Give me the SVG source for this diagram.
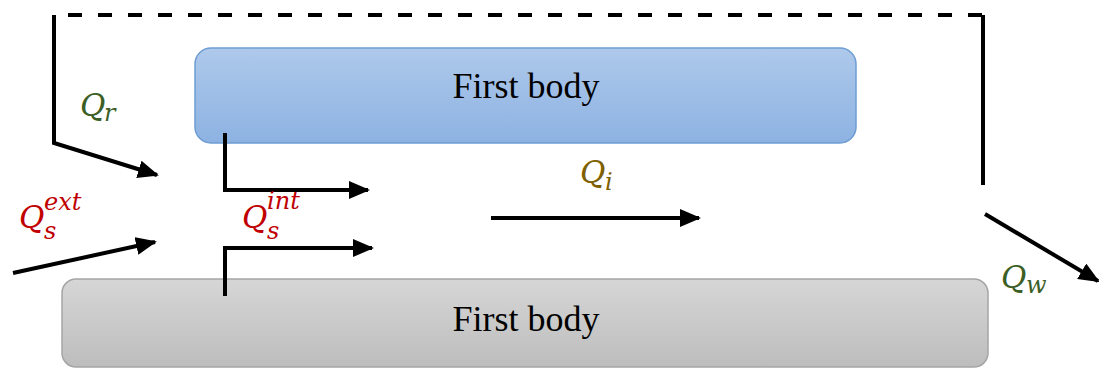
<svg xmlns="http://www.w3.org/2000/svg" width="1099" height="369" viewBox="0 0 1099 369">
<style>
.ln{fill:none;stroke:#000;stroke-width:4}
.lbl{font-family:"DejaVu Serif","Liberation Serif",serif;font-style:italic;font-size:31px}
.sub{font-size:24px}
.body{font-family:"Liberation Serif","Times New Roman",serif;font-size:36px;fill:#000}
.g{fill:#3d5f26}
.r{fill:#c00000}
.o{fill:#7f6000}
</style>
<defs>
<linearGradient id="blue" x1="0" y1="0" x2="0" y2="1">
<stop offset="0" stop-color="#aec9eb"/>
<stop offset="1" stop-color="#8db2e2"/>
</linearGradient>
<linearGradient id="gray" x1="0" y1="0" x2="0" y2="1">
<stop offset="0" stop-color="#d6d6d6"/>
<stop offset="1" stop-color="#bdbdbd"/>
</linearGradient>
<marker id="ah" markerUnits="userSpaceOnUse" markerWidth="21" markerHeight="18" refX="19" refY="9" orient="auto">
<path d="M0,0 L21,9 L0,18 Z" fill="#000"/>
</marker>
</defs>
<g id="top-body">
<rect x="195" y="48" width="661" height="95" rx="16" fill="url(#blue)" stroke="#6d9dd2" stroke-width="1.5"/>
<text class="body" x="526" y="98" text-anchor="middle">First body</text>
</g>
<g id="bottom-body">
<rect x="62" y="279" width="926" height="88" rx="14" fill="url(#gray)" stroke="#a5a5a5" stroke-width="1.5"/>
<text class="body" x="526" y="331" text-anchor="middle">First body</text>
</g>
<g id="connectors">
<path class="ln" d="M68,15 H983" stroke-dasharray="14,16" stroke-width="4.5"/>
<path class="ln" d="M983,15 V185"/>
<path class="ln" d="M54,15 V143 L157,175" marker-end="url(#ah)"/>
<path class="ln" d="M225,133 V190 H368" marker-end="url(#ah)"/>
<path class="ln" d="M225,296 V248 H372" marker-end="url(#ah)"/>
<path class="ln" d="M13,273 L155,242" marker-end="url(#ah)"/>
<path class="ln" d="M491,218 H699" marker-end="url(#ah)"/>
<path class="ln" d="M985,214 L1098,281" marker-end="url(#ah)"/>
</g>
<g id="labels">
<text class="lbl g" x="80" y="116">Q<tspan class="sub" x="104" y="121">r</tspan></text>
<text class="lbl r" x="19" y="228">Q<tspan class="sub" x="44" y="210">ext</tspan><tspan class="sub" x="44" y="239">s</tspan></text>
<text class="lbl r" x="242" y="228">Q<tspan class="sub" x="267" y="209">int</tspan><tspan class="sub" x="267" y="239">s</tspan></text>
<text class="lbl o" x="580" y="183">Q<tspan class="sub" x="605" y="190">i</tspan></text>
<text class="lbl g" x="1001" y="288">Q<tspan class="sub" x="1026" y="293">w</tspan></text>
</g>
</svg>
